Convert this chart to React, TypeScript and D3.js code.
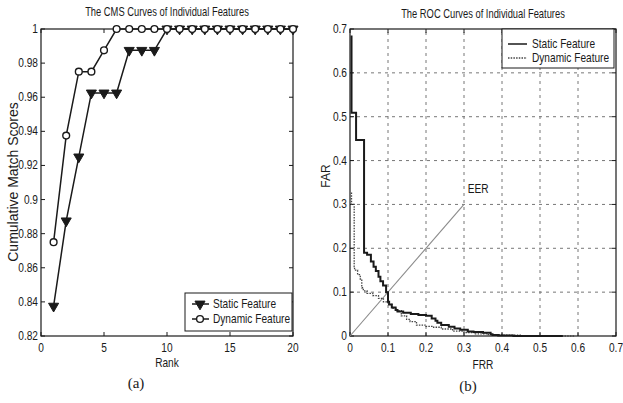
import React, { useEffect, useRef } from 'react';
import * as d3 from 'd3';

// CMS curves (rank vs cumulative match score)
const ranks = d3.range(1, 21);
const cmsStatic = [0.8375, 0.8875, 0.925, 0.9625, 0.9625, 0.9625, 0.9875, 0.9875, 0.9875, 1, 1, 1, 1, 1, 1, 1, 1, 1, 1, 1];
const cmsDynamic = [0.875, 0.9375, 0.975, 0.975, 0.9875, 1, 1, 1, 1, 1, 1, 1, 1, 1, 1, 1, 1, 1, 1, 1];
const cmsYTicks = [0.82, 0.84, 0.86, 0.88, 0.9, 0.92, 0.94, 0.96, 0.98, 1];
const cmsXTicks = [0, 5, 10, 15, 20];

// ROC curves, [FRR, FAR]
const rocStatic: [number, number][] = [
  [0.004, 0.685], [0.016, 0.509], [0.037, 0.447], [0.045, 0.19], [0.055, 0.185], [0.062, 0.17],
  [0.068, 0.158], [0.075, 0.148], [0.08, 0.135], [0.087, 0.125], [0.095, 0.115], [0.1, 0.1],
  [0.103, 0.078], [0.11, 0.072], [0.12, 0.065], [0.125, 0.059], [0.14, 0.056], [0.16, 0.053],
  [0.18, 0.05], [0.2, 0.048], [0.215, 0.046], [0.225, 0.04], [0.23, 0.035], [0.24, 0.03],
  [0.26, 0.025], [0.275, 0.021], [0.29, 0.017], [0.31, 0.014], [0.325, 0.01], [0.35, 0.009],
  [0.37, 0.0075], [0.375, 0.004], [0.39, 0.002], [0.43, 0.001], [0.56, 0.0],
];
const rocDynamic: [number, number][] = [
  [0.004, 0.327], [0.011, 0.3], [0.012, 0.158], [0.02, 0.15], [0.027, 0.14], [0.031, 0.13],
  [0.035, 0.11], [0.045, 0.103], [0.06, 0.097], [0.075, 0.092], [0.088, 0.086], [0.1, 0.078],
  [0.11, 0.072], [0.123, 0.063], [0.135, 0.058], [0.149, 0.046], [0.158, 0.038], [0.175, 0.033],
  [0.2, 0.025], [0.22, 0.022], [0.24, 0.02], [0.27, 0.016], [0.3, 0.011], [0.33, 0.008],
  [0.36, 0.005], [0.4, 0.003], [0.45, 0.002], [0.5, 0.001], [0.59, 0],
];
const eerLine: [number, number][] = [[0, 0], [0.3, 0.3]];
const rocTicks = [0, 0.1, 0.2, 0.3, 0.4, 0.5, 0.6, 0.7];

const ink = '#1a1a1a';
const sans = '"Liberation Sans", Arial, sans-serif';
const serif = '"Liberation Serif", "Times New Roman", serif';
const SQ = 0.78; // horizontal squeeze to mimic the condensed Helvetica of the scan

// condensed text: position via translate, squeeze via scale
function label(g: any, x: number, y: number, s: string, size: number, anchor = 'start', rot = 0) {
  return g.append('text')
    .attr('transform', `translate(${x},${y}) rotate(${rot}) scale(${SQ},1)`)
    .attr('text-anchor', anchor).attr('font-family', sans).attr('font-size', size).attr('fill', ink)
    .text(s);
}

function frame(g: any, x: any, y: any, xt: number[], yt: number[], xf: any, yf: any) {
  const [x0, x1] = x.range();
  const [y0, y1] = y.range();
  // inward ticks on all four sides
  g.append('g').selectAll('line').data(xt).join('line')
    .attr('x1', (d: number) => x(d)).attr('x2', (d: number) => x(d))
    .attr('y1', y0).attr('y2', y0 - 4).attr('stroke', ink);
  g.append('g').selectAll('line').data(xt).join('line')
    .attr('x1', (d: number) => x(d)).attr('x2', (d: number) => x(d))
    .attr('y1', y1).attr('y2', y1 + 4).attr('stroke', ink);
  g.append('g').selectAll('line').data(yt).join('line')
    .attr('x1', x0).attr('x2', x0 + 4)
    .attr('y1', (d: number) => y(d)).attr('y2', (d: number) => y(d)).attr('stroke', ink);
  g.append('g').selectAll('line').data(yt).join('line')
    .attr('x1', x1).attr('x2', x1 - 4)
    .attr('y1', (d: number) => y(d)).attr('y2', (d: number) => y(d)).attr('stroke', ink);
  g.append('rect').attr('x', x0).attr('y', y1).attr('width', x1 - x0).attr('height', y0 - y1)
    .attr('fill', 'none').attr('stroke', ink).attr('stroke-width', 1.2);
  xt.forEach((d) => label(g, x(d), y0 + 16, xf(d), 13, 'middle'));
  yt.forEach((d) => label(g, x0 - 3, y(d) + 4, yf(d), 13, 'end'));
}

export default function App() {
  const ref = useRef<SVGSVGElement>(null);

  useEffect(() => {
    const svg = d3.select(ref.current);
    svg.selectAll('*').remove();

    // ---------- (a) CMS ----------
    const xa = d3.scaleLinear().domain([0, 20]).range([41, 293]);
    const ya = d3.scaleLinear().domain([0.82, 1]).range([336, 29]);
    const ga = svg.append('g');
    frame(ga, xa, ya, cmsXTicks, cmsYTicks, (d: number) => String(d), (d: number) => String(d));

    const lineA = d3.line<number>().x((_, i) => xa(ranks[i])).y((d) => ya(d));
    ga.append('path').attr('d', lineA(cmsStatic))
      .attr('fill', 'none').attr('stroke', ink).attr('stroke-width', 1.5);
    ga.append('path').attr('d', lineA(cmsDynamic))
      .attr('fill', 'none').attr('stroke', ink).attr('stroke-width', 1.5);
    const tri = d3.symbol().type(d3.symbolTriangle).size(44);
    ga.append('g').selectAll('path').data(cmsStatic).join('path')
      .attr('d', tri)
      .attr('transform', (d, i) => `translate(${xa(ranks[i])},${ya(d)}) rotate(180)`)
      .attr('fill', ink).attr('stroke', ink);
    ga.append('g').selectAll('circle').data(cmsDynamic).join('circle')
      .attr('cx', (_, i) => xa(ranks[i])).attr('cy', (d) => ya(d)).attr('r', 3.4)
      .attr('fill', 'white').attr('stroke', ink).attr('stroke-width', 1.4);

    label(ga, 167, 16, 'The CMS Curves of Individual Features', 12, 'middle');
    label(ga, 167, 367, 'Rank', 13, 'middle');
    ga.append('text').attr('transform', 'translate(18,182) rotate(-90)').attr('text-anchor', 'middle')
      .attr('font-family', sans).attr('font-size', 14).attr('fill', ink).text('Cumulative Match Scores');
    ga.append('text').attr('x', 136).attr('y', 388).attr('text-anchor', 'middle')
      .attr('font-family', serif).attr('font-size', 15).attr('fill', ink).text('(a)');

    // legend (a)
    const la = ga.append('g');
    la.append('rect').attr('x', 185).attr('y', 293).attr('width', 107).attr('height', 38)
      .attr('fill', 'white').attr('stroke', ink);
    la.append('line').attr('x1', 192).attr('x2', 209).attr('y1', 304).attr('y2', 304).attr('stroke', ink).attr('stroke-width', 1.5);
    la.append('path').attr('d', tri).attr('transform', 'translate(200,304) rotate(180)').attr('fill', ink).attr('stroke', ink);
    la.append('line').attr('x1', 192).attr('x2', 209).attr('y1', 319).attr('y2', 319).attr('stroke', ink).attr('stroke-width', 1.5);
    la.append('circle').attr('cx', 200).attr('cy', 319).attr('r', 3.4).attr('fill', 'white').attr('stroke', ink).attr('stroke-width', 1.4);
    label(la, 213, 308, 'Static Feature', 13);
    label(la, 213, 323, 'Dynamic Feature', 13);

    // ---------- (b) ROC ----------
    const xb = d3.scaleLinear().domain([0, 0.7]).range([350, 616]);
    const yb = d3.scaleLinear().domain([0, 0.7]).range([336, 29]);
    const gb = svg.append('g');
    const inner = rocTicks.slice(1, -1);
    gb.append('g').selectAll('line').data(inner).join('line')
      .attr('x1', (d) => xb(d)).attr('x2', (d) => xb(d)).attr('y1', 336).attr('y2', 29)
      .attr('stroke', '#777').attr('stroke-dasharray', '3,4');
    gb.append('g').selectAll('line').data(inner).join('line')
      .attr('y1', (d) => yb(d)).attr('y2', (d) => yb(d)).attr('x1', 350).attr('x2', 616)
      .attr('stroke', '#777').attr('stroke-dasharray', '3,4');
    frame(gb, xb, yb, rocTicks, rocTicks, (d: number) => String(d), (d: number) => String(d));

    const lineB = d3.line<[number, number]>().x((d) => xb(d[0])).y((d) => yb(d[1]));
    gb.append('path').attr('d', lineB(eerLine)).attr('fill', 'none').attr('stroke', '#8a8a8a').attr('stroke-width', 1.1);
    const stepB = d3.line<[number, number]>().x((d) => xb(d[0])).y((d) => yb(d[1])).curve(d3.curveStepBefore);
    gb.append('path').attr('d', stepB(rocDynamic)).attr('fill', 'none').attr('stroke', '#444')
      .attr('stroke-width', 1.3).attr('stroke-dasharray', '1.5,1.2');
    gb.append('path').attr('d', stepB(rocStatic)).attr('fill', 'none').attr('stroke', ink).attr('stroke-width', 2);
    label(gb, xb(0.337), yb(0.325), 'EER', 13, 'middle');

    label(gb, 483, 18, 'The ROC Curves of Individual Features', 12, 'middle');
    label(gb, 483, 369, 'FRR', 13, 'middle');
    gb.append('text').attr('transform', 'translate(330,176) rotate(-90)').attr('text-anchor', 'middle')
      .attr('font-family', sans).attr('font-size', 12).attr('fill', ink).text('FAR');
    gb.append('text').attr('x', 468).attr('y', 391).attr('text-anchor', 'middle')
      .attr('font-family', serif).attr('font-size', 15).attr('fill', ink).text('(b)');

    // legend (b)
    const lb = gb.append('g');
    lb.append('rect').attr('x', 502).attr('y', 29).attr('width', 112).attr('height', 39)
      .attr('fill', 'white').attr('stroke', ink);
    lb.append('line').attr('x1', 508).attr('x2', 527).attr('y1', 44).attr('y2', 44).attr('stroke', ink).attr('stroke-width', 1.5);
    lb.append('line').attr('x1', 508).attr('x2', 527).attr('y1', 58).attr('y2', 58).attr('stroke', '#444')
      .attr('stroke-width', 1.3).attr('stroke-dasharray', '1.5,1.2');
    label(lb, 532, 48, 'Static Feature', 13);
    label(lb, 532, 62, 'Dynamic Feature', 13);
  }, []);

  return (
    <svg ref={ref} width={623} height={403}
      style={{ position: 'absolute', left: 0, top: 0, background: 'white' }} />
  );
}
